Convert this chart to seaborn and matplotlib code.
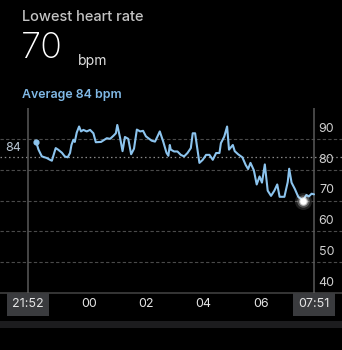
import matplotlib
matplotlib.use("Agg")
import matplotlib.pyplot as plt
from matplotlib.patches import Rectangle
import seaborn as sns
import pandas as pd

# Overnight heart-rate samples (clock time, bpm)
times = [
    "22:09", "22:14", "22:21", "22:31", "22:38", "22:42", "22:50", "22:55", "23:03", "23:09",
    "23:15", "23:20", "23:23", "23:27", "23:30", "23:34", "23:39", "23:43", "23:48", "23:55",
    "00:02", "00:09", "00:14", "00:25", "00:37", "00:44", "00:51", "00:56", "00:59", "01:05",
    "01:10", "01:15", "01:22", "01:28", "01:34", "01:40", "01:47", "01:53", "01:59", "02:11",
    "02:18", "02:23", "02:28", "02:35", "02:42", "02:46", "02:49", "02:51", "02:58", "03:05",
    "03:12", "03:19", "03:26", "03:33", "03:37", "03:42", "03:46", "03:51", "03:58", "04:05",
    "04:12", "04:19", "04:26", "04:33", "04:36", "04:43", "04:49", "04:53", "05:01", "05:05",
    "05:12", "05:21", "05:28", "05:33", "05:38", "05:45", "05:51", "05:57", "06:02", "06:08",
    "06:14", "06:21", "06:28", "06:34", "06:39", "06:49", "06:56", "06:59", "07:04", "07:11",
    "07:18", "07:28", "07:35", "07:40", "07:46", "07:51",
]
bpm = [
    89, 86.5, 84.3, 83.8, 83.2, 82.9, 87, 86.5, 85.5, 84.3,
    84, 85.4, 88, 89.7, 89, 92, 94, 92.4, 92.9, 92.4,
    92.9, 91.8, 88.9, 89, 90.2, 90, 91, 91.8, 94.5, 90.2,
    86, 90.6, 90, 85, 86.8, 93, 92.4, 92.6, 90.8, 89.4,
    89.1, 90.7, 92.4, 89.2, 85.5, 84.5, 88, 86.5, 85.9, 85.9,
    84.8, 84.3, 85.4, 87, 91.8, 91.8, 87.5, 82.2, 83.2, 84.8,
    84.8, 83.2, 85.4, 85.4, 88.6, 90.7, 94, 86.5, 88, 86,
    85, 84, 81.5, 80.2, 82.2, 79.8, 75.2, 77.8, 75.8, 81.7,
    73.2, 71.5, 73.2, 75.2, 71.2, 71.2, 76, 80.3, 75.8, 73.7,
    71.2, 70, 71.8, 71.3, 72.2, 72,
]

session_start = "21:52"
session_end = "07:51"
lowest = 70
average = 84
y_ticks = [40, 50, 60, 70, 80, 90]
x_ticks = ["00", "02", "04", "06"]


def to_hours(hhmm):
    h, m = (int(p) for p in hhmm.split(":"))
    hours = h + m / 60
    return hours + 24 if hours < 12 else hours


df = pd.DataFrame({"hour": [to_hours(t) for t in times], "bpm": bpm})
t0 = to_hours(session_start)
t1 = to_hours(session_end)

sns.set_style("dark")
plt.rcParams["font.family"] = ["Inter", "DejaVu Sans"]

fig = plt.figure(figsize=(3.42, 3.50), dpi=100, facecolor="black")
ax = fig.add_axes([0, 57 / 350, 1, 185 / 350])
ax.set_facecolor("black")

pad = (t1 - t0) * 28 / 286
ax.set_xlim(t0 - pad, t1 + pad)
ax.set_ylim(40, 100)
ax.set_axis_off()

# horizontal guides
for v in y_ticks[1:]:
    ax.axhline(v, color="#4a4a4a", lw=0.8, ls=(0, (3, 2)), zorder=1)
ax.axhline(average, color="#8a8a8a", lw=0.9, ls=(0, (1.2, 2.2)), zorder=1)
ax.axhline(40, color="#3a3a3a", lw=1.3, clip_on=False, zorder=1)

# session bounds
ax.axvline(t0, color="#5a5a5a", lw=1.1, zorder=1)
ax.axvline(t1, color="#5a5a5a", lw=1.1, zorder=1)

line_color = "#8cc4ee"
sns.lineplot(data=df, x="hour", y="bpm", color=line_color, lw=1.5, ax=ax, zorder=3)
ax.scatter(df["hour"].iloc[0], df["bpm"].iloc[0], s=12, color=line_color, zorder=4)

# lowest-value marker with glow
low_row = df.loc[df["bpm"].idxmin()]
for s, a in [(150, 0.12), (80, 0.25), (40, 0.6), (22, 1.0)]:
    ax.scatter(low_row["hour"], lowest, s=s, color="white", alpha=a, lw=0, zorder=5)

# right-hand value labels, placed just above their guides
for v in y_ticks:
    ax.annotate(str(v), xy=(1, v), xycoords=("axes fraction", "data"),
                xytext=(-5.5, 7.2), textcoords="offset points",
                ha="right", va="center", color="#d0d0d0", fontsize=9)
ax.annotate(str(average), xy=(0, average), xycoords=("axes fraction", "data"),
            xytext=(9.4, 6.6), textcoords="offset points",
            ha="center", va="center", color="#b9c6d3", fontsize=9)

# time axis labels
for lbl in x_ticks:
    ax.annotate(lbl, xy=(int(lbl) + 24, 0), xycoords=("data", "axes fraction"),
                xytext=(0, -8), textcoords="offset points",
                ha="center", va="center", color="#e6e6e6", fontsize=9)
for lbl, t in [(session_start, t0), (session_end, t1)]:
    ax.annotate(lbl, xy=(t, 0), xycoords=("data", "axes fraction"),
                xytext=(0, -8.2), textcoords="offset points",
                ha="center", va="center", color="#e6e6e6", fontsize=9,
                bbox=dict(boxstyle="square,pad=0.45", fc="#3a3b3e", ec="none"))

# bottom strip
fig.add_artist(Rectangle((0, (350 - 328) / 350), 1, 7 / 350,
                         transform=fig.transFigure, fc="#1c1c1e", ec="none"))

# header
fig.text(22 / 342, 1 - 17 / 350, "Lowest heart rate", color="#c4c4c4",
         fontsize=10.5, fontweight="medium", va="center", ha="left")
fig.text(21 / 342, 1 - 58 / 350, str(lowest), color="white", fontsize=26,
         fontweight="light", va="baseline", ha="left")
fig.text(78 / 342, 1 - 65.5 / 350, "bpm", color="#e0e0e0", fontsize=10,
         va="baseline", ha="left")
fig.text(22 / 342, 1 - 95 / 350, f"Average {average} bpm", color="#80b9e6",
         fontsize=8.9, fontweight="semibold", va="center", ha="left")

fig.savefig("out.png", dpi=100, facecolor="black")
